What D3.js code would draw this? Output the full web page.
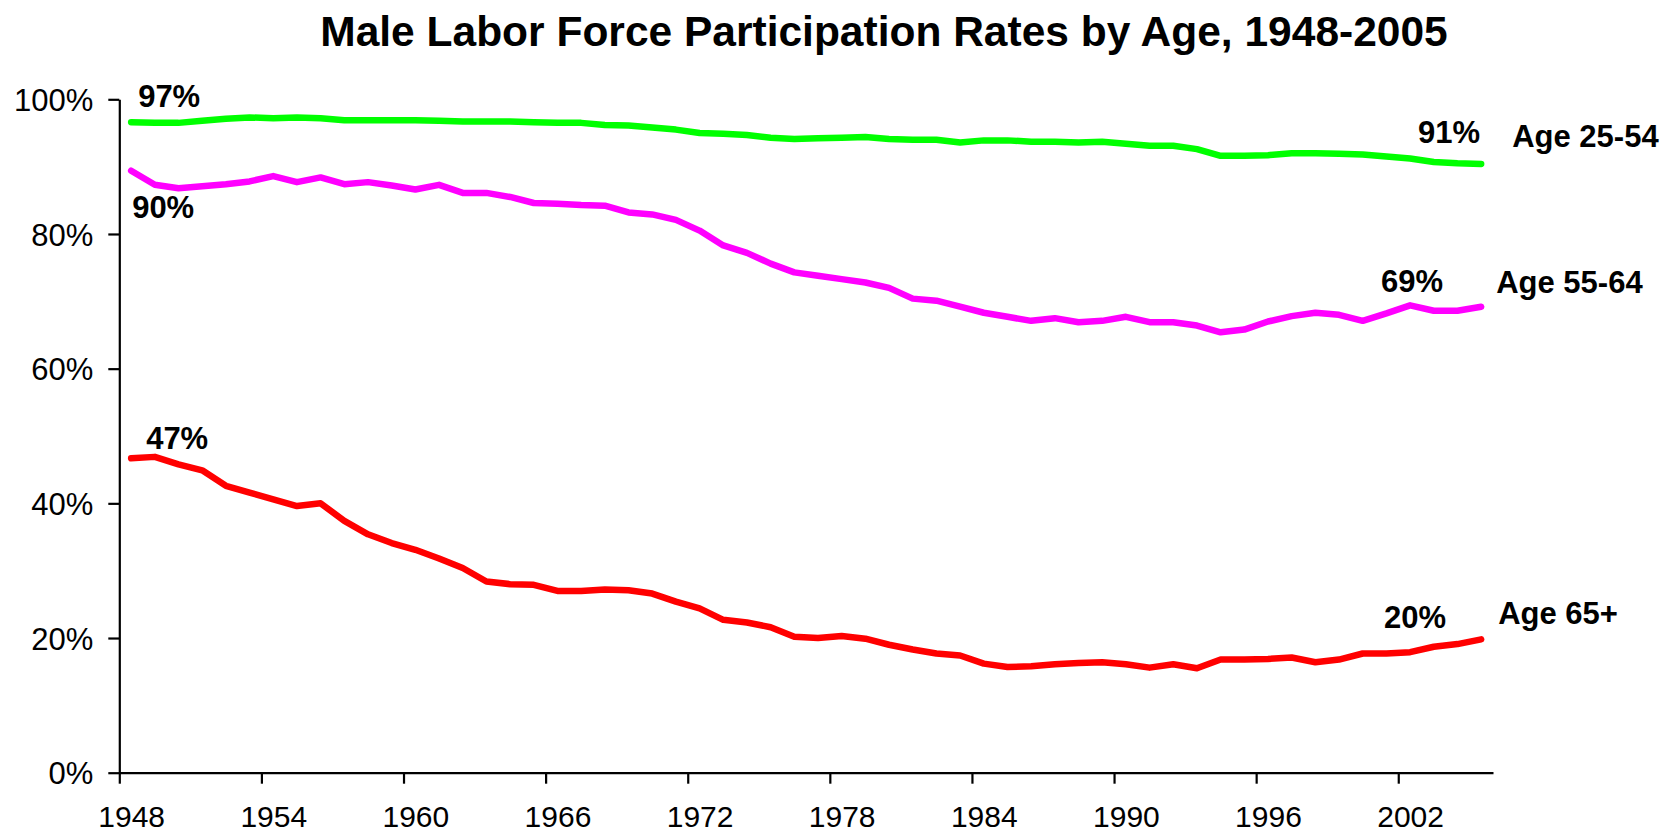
<!DOCTYPE html>
<html>
<head>
<meta charset="utf-8">
<script src="https://cdn.jsdelivr.net/npm/d3@7"></script>
<style>
  html, body { margin: 0; padding: 0; background: #fff; }
  svg { display: block; font-family: "Liberation Sans", Arial, sans-serif; }
</style>
</head>
<body>
<svg id="chart" width="1670" height="835"></svg>
<script>
// ---- Data ----
const years = [1948,1949,1950,1951,1952,1953,1954,1955,1956,1957,1958,1959,
  1960,1961,1962,1963,1964,1965,1966,1967,1968,1969,
  1970,1971,1972,1973,1974,1975,1976,1977,1978,1979,
  1980,1981,1982,1983,1984,1985,1986,1987,1988,1989,
  1990,1991,1992,1993,1994,1995,1996,1997,1998,1999,
  2000,2001,2002,2003,2004,2005];

const age2554 = [96.6,96.5,96.5,96.8,97.1,97.3,97.2,97.3,97.2,96.9,96.9,96.9,
  96.9,96.8,96.7,96.7,96.7,96.6,96.5,96.5,96.2,96.1,
  95.8,95.5,95.0,94.9,94.7,94.3,94.1,94.2,94.3,94.4,
  94.1,94.0,94.0,93.6,93.9,93.9,93.7,93.7,93.6,93.7,
  93.4,93.1,93.1,92.6,91.6,91.6,91.7,92.0,92.0,91.9,
  91.8,91.5,91.2,90.7,90.5,90.4];

const age5564 = [89.4,87.3,86.8,87.1,87.4,87.8,88.6,87.7,88.4,87.4,87.7,87.2,
  86.6,87.3,86.1,86.1,85.5,84.6,84.5,84.3,84.2,83.2,
  82.9,82.1,80.5,78.3,77.2,75.6,74.3,73.8,73.3,72.8,
  72.0,70.4,70.1,69.2,68.3,67.7,67.1,67.5,66.9,67.1,
  67.7,66.9,66.9,66.4,65.4,65.8,67.0,67.8,68.3,68.0,
  67.1,68.2,69.4,68.6,68.6,69.2];

const age65 = [46.7,46.9,45.8,44.9,42.6,41.6,40.6,39.6,40.0,37.4,35.4,34.1,
  33.1,31.8,30.4,28.4,28.0,27.9,27.0,27.0,27.2,27.1,
  26.6,25.4,24.4,22.7,22.3,21.6,20.2,20.0,20.3,19.9,
  19.0,18.3,17.7,17.4,16.2,15.7,15.8,16.1,16.3,16.4,
  16.1,15.6,16.1,15.5,16.8,16.8,16.9,17.1,16.4,16.8,
  17.7,17.7,17.9,18.7,19.1,19.8];

const seriesNames = ["Age 25-54", "Age 55-64", "Age 65+"];
const startLabels = ["97%", "90%", "47%"];
const endLabels = ["91%", "69%", "20%"];
const xTickYears = [1948,1954,1960,1966,1972,1978,1984,1990,1996,2002];
const yTickValues = [0,20,40,60,80,100];
const titleText = "Male Labor Force Participation Rates by Age, 1948-2005";

// ---- Layout / style ----
const colors = ["#00ff00", "#ff00ff", "#ff0000"];
const plot = { left: 119.3, right: 1493, top: 99.3, bottom: 772.7 };
const tickFont = 31, xTickFont = 30, labelFont = 31;
// label offsets relative to first / last data point
const startOff = [ {dx: 7, dy: -15}, {dx: 1, dy: 47}, {dx: 15, dy: -9.5} ];
const endOff   = [ {dx: -1, dy: -21}, {dx: -38, dy: -15}, {dx: -35, dy: -11} ];
const nameOff  = [ {dx: 31, dy: -17}, {dx: 15, dy: -14}, {dx: 17, dy: -15} ];

const svg = d3.select("#chart");
svg.append("rect").attr("width", 1670).attr("height", 835).attr("fill", "#fff");

const x = d3.scaleLinear()
  .domain([years[0], years[years.length - 1] + 1])
  .range([plot.left, plot.right]);
const half = (x(years[0] + 1) - x(years[0])) / 2;
const px = yr => x(yr) + half;

const y = d3.scaleLinear().domain([0, 100]).range([plot.bottom, plot.top]);

// Title
svg.append("text")
  .attr("x", 884).attr("y", 46)
  .attr("text-anchor", "middle")
  .attr("font-size", 42.5).attr("font-weight", "bold")
  .attr("fill", "#000")
  .text(titleText);

// Axes
const xAxis = d3.axisBottom(x)
  .tickValues(xTickYears)
  .tickFormat(d3.format("d"))
  .tickSize(11)
  .tickSizeOuter(0);
const gx = svg.append("g").attr("transform", `translate(0,${plot.bottom})`).call(xAxis);
gx.select(".domain").attr("stroke", "#000").attr("stroke-width", 2.2);
gx.selectAll(".tick line").attr("stroke", "#000").attr("stroke-width", 2.2);
gx.selectAll(".tick text")
  .attr("x", half).attr("y", 54.5).attr("dy", 0)
  .attr("font-size", xTickFont).attr("font-family", "Liberation Sans, Arial, sans-serif")
  .attr("fill", "#000");

const yAxis = d3.axisLeft(y)
  .tickValues(yTickValues)
  .tickFormat(d => d + "%")
  .tickSize(11)
  .tickPadding(15)
  .tickSizeOuter(0);
const gy = svg.append("g").attr("transform", `translate(${plot.left},0)`).call(yAxis);
gy.select(".domain").attr("stroke", "#000").attr("stroke-width", 2.2);
gy.selectAll(".tick line").attr("stroke", "#000").attr("stroke-width", 2.2);
gy.selectAll(".tick text")
  .attr("dy", "0.36em")
  .attr("font-size", tickFont).attr("font-family", "Liberation Sans, Arial, sans-serif")
  .attr("fill", "#000");

// Lines
const series = [age2554, age5564, age65];
const line = d3.line()
  .x((d, i) => px(years[i]))
  .y(d => y(d));

series.forEach((vals, k) => {
  svg.append("path")
    .datum(vals)
    .attr("d", line)
    .attr("fill", "none")
    .attr("stroke", colors[k])
    .attr("stroke-width", 6.5)
    .attr("stroke-linejoin", "round")
    .attr("stroke-linecap", "round");
});

// Labels
series.forEach((vals, k) => {
  const x0 = px(years[0]), y0 = y(vals[0]);
  const n = vals.length - 1;
  const x1 = px(years[n]), y1 = y(vals[n]);
  svg.append("text")
    .attr("x", x0 + startOff[k].dx).attr("y", y0 + startOff[k].dy)
    .attr("font-size", labelFont).attr("font-weight", "bold").attr("fill", "#000")
    .text(startLabels[k]);
  svg.append("text")
    .attr("x", x1 + endOff[k].dx).attr("y", y1 + endOff[k].dy)
    .attr("text-anchor", "end")
    .attr("font-size", labelFont).attr("font-weight", "bold").attr("fill", "#000")
    .text(endLabels[k]);
  svg.append("text")
    .attr("x", x1 + nameOff[k].dx).attr("y", y1 + nameOff[k].dy)
    .attr("font-size", labelFont).attr("font-weight", "bold").attr("fill", "#000")
    .text(seriesNames[k]);
});
</script>
</body>
</html>
